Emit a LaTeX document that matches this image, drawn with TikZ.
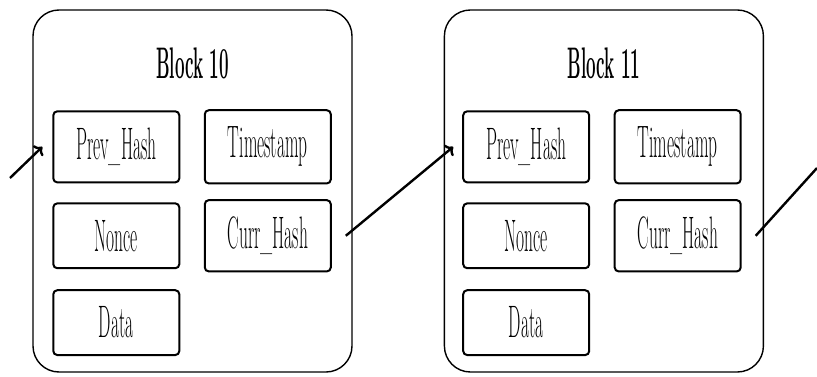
\documentclass[tikz,border=0pt]{standalone}
\usepackage{fontspec}
\usepackage{graphicx}
\usetikzlibrary{arrows.meta,positioning}

% the text in the figure is drawn tall and narrow
\newcommand{\tallt}[1]{\scalebox{1}[2.6]{#1}}

\begin{document}
\begin{tikzpicture}[x=1pt,y=1pt,>=To,
  block/.style={draw, line width=1.4pt, rounded corners=26pt, minimum width=319pt, minimum height=362pt, inner sep=0pt},
  heading/.style={font=\fontsize{17}{20}\selectfont\bfseries, inner sep=0pt},
  field/.style={draw, line width=2pt, rounded corners=4pt, minimum width=126pt, inner xsep=2pt, inner ysep=16.7pt, font=\fontsize{17.5}{20}\selectfont},
  link/.style={->, line width=2.4pt}]
\useasboundingbox (0,0) rectangle (817,376);

% block 10
\node[block] (blk10) at (192.5,185) {};
\node[heading, below=38pt of blk10.north] (title10) {\tallt{Block 10}};
\node[field, below right=101pt and 20pt of blk10.north west] (prev10) {\tallt{Prev\_Hash}};
\node[field, below=19pt of prev10] (nonce10) {\tallt{Nonce}};
\node[field, below=20pt of nonce10] (data10) {\tallt{Data}};
\node[field, right=23.5pt of prev10] (time10) {\tallt{Timestamp}};
\node[field, right=23.5pt of nonce10] (curr10) {\tallt{Curr\_Hash}};

% block 11
\node[block, right=91pt of blk10] (blk11) {};
\node[heading, below=38pt of blk11.north] (title11) {\tallt{Block 11}};
\node[field, below right=101pt and 18.5pt of blk11.north west] (prev11) {\tallt{Prev\_Hash}};
\node[field, below=19pt of prev11] (nonce11) {\tallt{Nonce}};
\node[field, below=20pt of nonce11] (data11) {\tallt{Data}};
\node[field, right=23.5pt of prev11] (time11) {\tallt{Timestamp}};
\node[field, right=23.5pt of nonce11] (curr11) {\tallt{Curr\_Hash}};

% chain links
\coordinate (inlink) at (10,198);
\coordinate (outlink) at (817,208);
\draw[link] (inlink) -- ([xshift=-10pt]prev10.west);
\draw[link] ([xshift=14pt]curr10.east) -- ([xshift=-9pt]prev11.west);
\draw[line width=2.4pt] ([xshift=14pt]curr11.east) -- (outlink);
\end{tikzpicture}
\end{document}
